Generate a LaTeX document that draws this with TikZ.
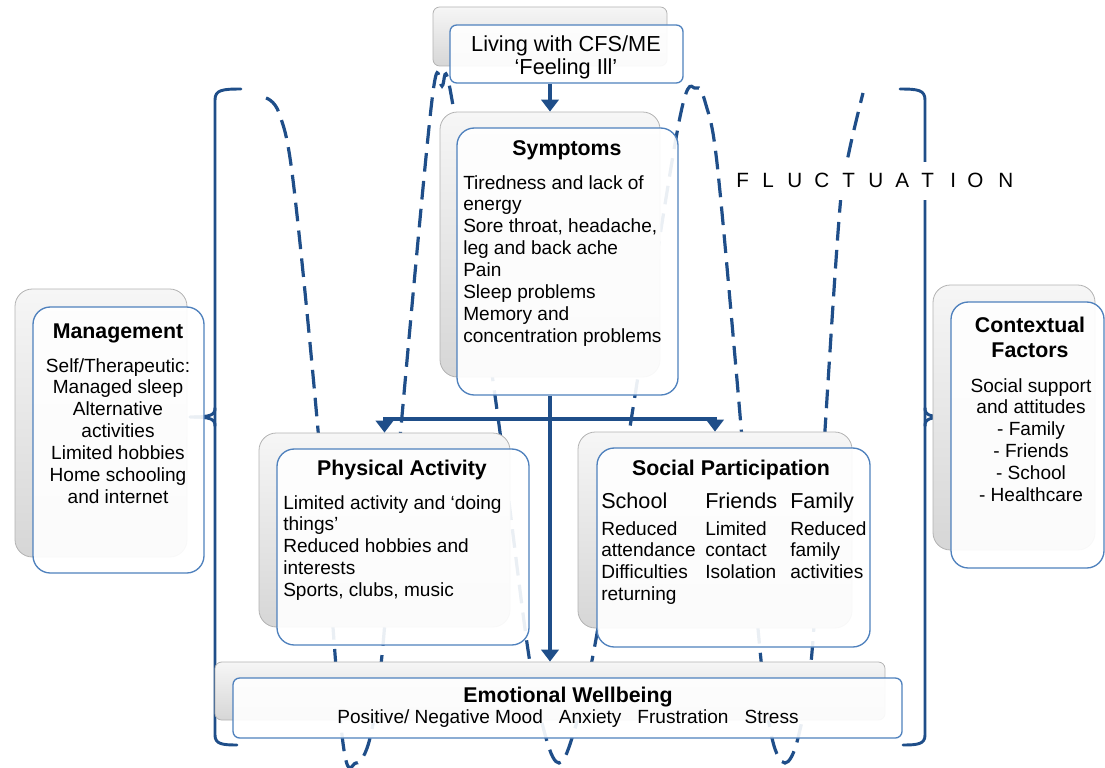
\documentclass[tikz,border=0pt]{standalone}
\usepackage{fontspec}
\setmainfont{Liberation Sans}
\usetikzlibrary{arrows.meta,fit}

\definecolor{linkblue}{HTML}{1F4E89}
\definecolor{edgeblue}{HTML}{4F81BD}

\newcommand{\bodysize}{\fontsize{14.3pt}{16.4pt}\selectfont}
\newcommand{\headsize}{\fontsize{16pt}{18.6pt}\selectfont\bfseries}
\newcommand{\colsize}{\fontsize{16.2pt}{18pt}\selectfont}

\tikzset{
    backbox/.style={draw=gray!60, line width=0.6pt, top color=gray!7, bottom color=gray!32,
        rounded corners=13pt, inner sep=0pt},
    frontbox/.style={draw=edgeblue, line width=1pt, fill=white, fill opacity=0.91,
        rounded corners=13pt, inner sep=0pt},
    heading/.style={font=\headsize, inner sep=0pt},
    bodytext/.style={font=\bodysize, inner sep=0pt},
    arr/.style={linkblue, line width=2.4pt, -{Triangle[width=13pt,length=9pt]}},
    wave/.style={linkblue, line width=2.4pt, dash pattern=on 14pt off 7pt},
    brace/.style={linkblue, line width=2.2pt, line cap=round},
    flux/.style={font=\fontsize{15.5pt}{18pt}\selectfont, inner sep=0pt, anchor=base west}
}

\begin{document}
\begin{tikzpicture}[x=0.75pt, y=-0.75pt]

    \useasboundingbox (0,0) rectangle (1105,767);

    % Fluctuation wave (behind everything)
    \draw[wave] plot[smooth, tension=0.55] coordinates {
        (266,98) (279,113) (293,180) (318,430) (342,735) (356,763) (370,738)
        (382,655) (401,427) (432,100) (442,86) (452,100)
        (497,410) (528,650) (546,738) (559,763) (572,738)
        (594,650) (630,427) (679,122) (696,88) (706,105)
        (717,163) (737,380) (760,650) (772,738) (785,763) (798,738)
        (812,652) (825,430) (840,207) (849,152) (863,93)};

    % Left bracket
    \draw[brace] (241,89) .. controls (222,89) and (215,90) .. (215,100) -- (215,735)
        .. controls (215,744) and (222,745) .. (237,745);
    \draw[brace] (215,408) .. controls (215,415) and (211,417) .. (190,417);
    \draw[brace] (215,426) .. controls (215,419) and (211,417) .. (190,417);

    % Right bracket
    \draw[brace] (900,89) .. controls (918,89) and (925,90) .. (925,100) -- (925,735)
        .. controls (925,744) and (918,745) .. (903,745);
    \draw[brace] (925,408) .. controls (925,415) and (929,417) .. (950,417);
    \draw[brace] (925,426) .. controls (925,419) and (929,417) .. (950,417);

    % Fluctuation label
    \node[fill=white, inner sep=0pt, fit={(730,162) (1015,200)}] (fluxbg) {};
    \foreach \ch/\xx [count=\i] in {F/736, L/762, U/787, C/814, T/842, U/868,
                                    A/895, T/921, I/950, O/967, N/998} {
        \node[flux] (fl\i) at (\xx,187) {\ch};
    }

    % Living with CFS/ME
    \node[backbox, rounded corners=5pt, fit={(433,7) (667,66)}] (topB) {};
    \node[frontbox, rounded corners=5pt, fit={(450,25) (683,83)}] (topF) {};
    \node[inner sep=0pt, font=\fontsize{16.3pt}{17.3pt}\selectfont, align=center, anchor=north]
        (topT) at (566,35) {Living with CFS/ME\\‘Feeling Ill’};

    % Symptoms
    \node[backbox, fit={(440,112) (660,377)}] (symB) {};
    \node[frontbox, fit={(457,128) (678,395)}] (symF) {};
    \node[heading, anchor=base] (symH) at (567,155) {Symptoms};
    \node[bodytext, align=left, anchor=north west] (symL) at (463,175)
        {Tiredness and lack of\\energy\\Sore throat, headache,\\leg and back ache\\Pain\\
         Sleep problems\\Memory and\\concentration problems};

    % Management
    \node[backbox, fit={(15,289) (187,557)}] (mgB) {};
    \node[frontbox, fit={(33,307) (204,573)}] (mgF) {};
    \node[heading, anchor=base] (mgH) at (118,338) {Management};
    \node[bodytext, align=center, anchor=north] (mgL) at (118,358)
        {Self/Therapeutic:\\Managed sleep\\Alternative\\activities\\Limited hobbies\\
         Home schooling\\and internet};

    % Contextual factors
    \node[backbox, fit={(933,285) (1095,550)}] (cfB) {};
    \node[frontbox, fit={(951,302) (1104,568)}] (cfF) {};
    \node[heading, align=center, anchor=north] (cfH) at (1030,317) {Contextual\\Factors};
    \node[bodytext, align=center, anchor=north] (cfL) at (1031,378)
        {Social support\\and attitudes\\- Family\\- Friends\\- School\\- Healthcare};

    % Physical activity
    \node[backbox, fit={(259,433) (510,627)}] (paB) {};
    \node[frontbox, fit={(277,449) (529,645)}] (paF) {};
    \node[heading, anchor=base] (paH) at (402,475) {Physical Activity};
    \node[bodytext, align=left, anchor=north west] (paL) at (283,495)
        {Limited activity and ‘doing\\things’\\Reduced hobbies and\\interests\\Sports, clubs, music};

    % Social participation
    \node[backbox, fit={(578,432) (852,628)}] (spB) {};
    \node[frontbox, fit={(597,448) (870,647)}] (spF) {};
    \node[heading, anchor=base] (spH) at (731,475) {Social Participation};
    \node[font=\colsize, inner sep=0pt, anchor=base west] (scH) at (601,508) {School};
    \node[font=\colsize, inner sep=0pt, anchor=base west] (frH) at (705,508) {Friends};
    \node[font=\colsize, inner sep=0pt, anchor=base west] (faH) at (790,508) {Family};
    \node[bodytext, align=left, anchor=north west] (scL) at (601,521)
        {Reduced\\attendance\\Difficulties\\returning};
    \node[bodytext, align=left, anchor=north west] (frL) at (705,521)
        {Limited\\contact\\Isolation};
    \node[bodytext, align=left, anchor=north west] (faL) at (790,521)
        {Reduced\\family\\activities};

    % Emotional wellbeing
    \node[backbox, rounded corners=5pt, fit={(215,662) (885,720)}] (ewB) {};
    \node[frontbox, rounded corners=5pt, fit={(233,678) (902,738)}] (ewF) {};
    \node[heading, anchor=base] (ewH) at (568,702) {Emotional Wellbeing};
    \node[bodytext, anchor=base] (ewL) at (568,723)
        {Positive/ Negative Mood\hspace{12pt}Anxiety\hspace{12pt}Frustration\hspace{12pt}Stress};

    % Arrows
    \coordinate (split) at (550,419);
    \draw[arr] (topB.south |- topF.south) -- (symB.north);
    \draw[arr] (symB.south |- symF.south) -- (ewB.north);
    \draw[arr] (split) -| (paB.north);
    \draw[arr] (split) -| (spB.north);

\end{tikzpicture}
\end{document}
